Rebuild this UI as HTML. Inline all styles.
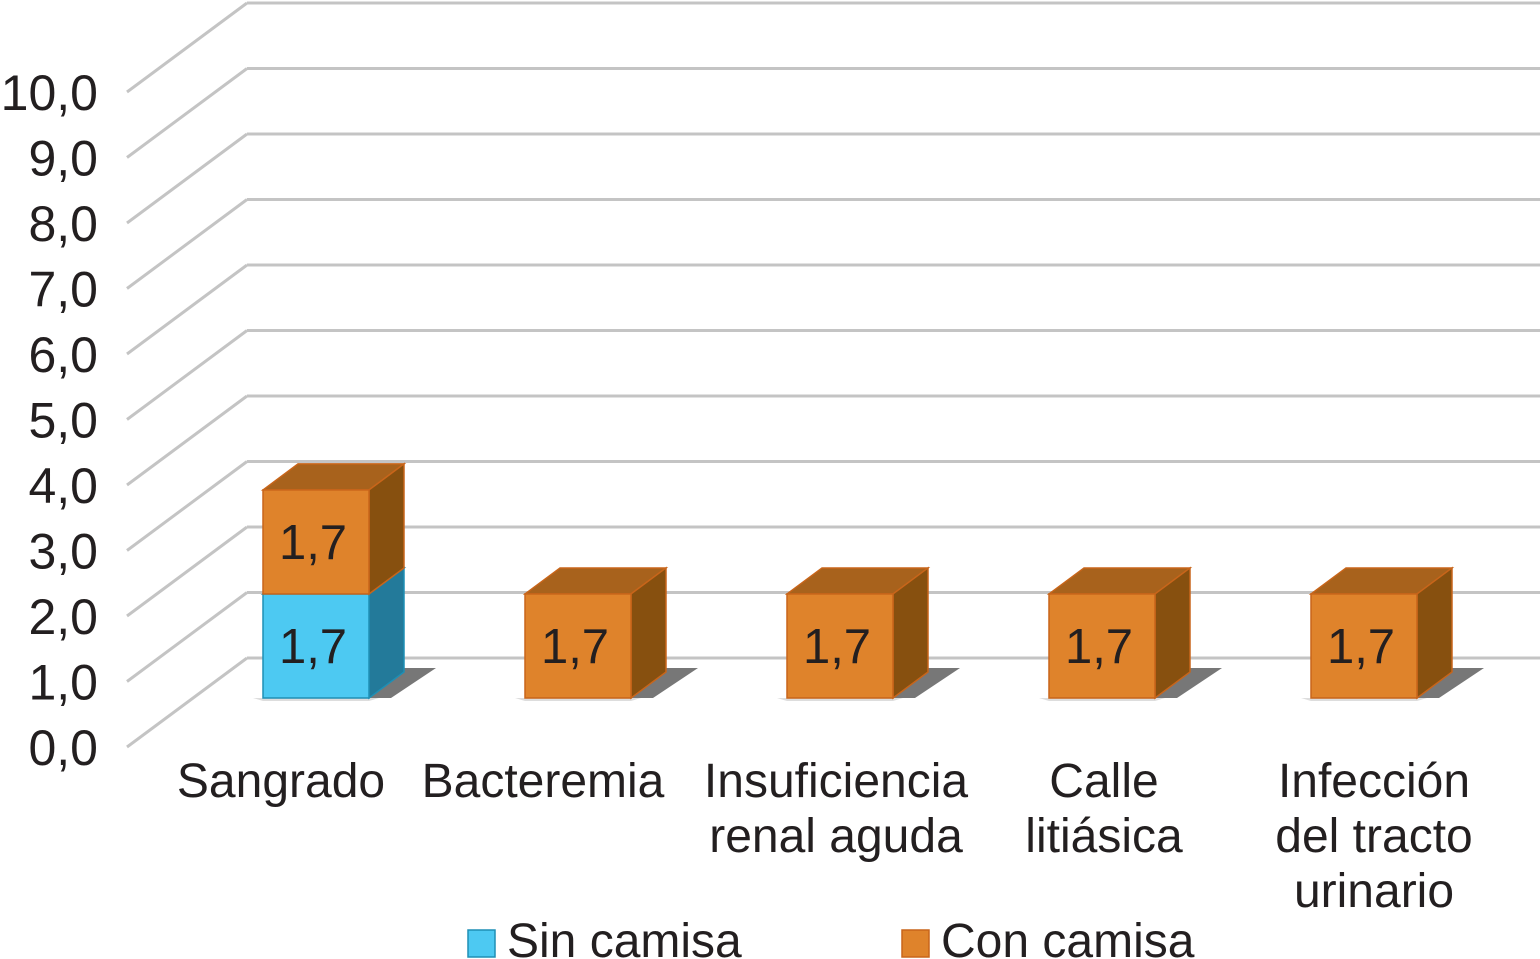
<!DOCTYPE html>
<html><head><meta charset="utf-8"><style>
html,body{margin:0;padding:0;background:#fff;}
svg{display:block;font-family:"Liberation Sans",Arial,sans-serif;}
</style></head><body>
<svg id="chart" width="1540" height="959" viewBox="0 0 1540 959" xmlns="http://www.w3.org/2000/svg"></svg>
<script>
const categories = [["Sangrado"],["Bacteremia"],["Insuficiencia","renal aguda"],["Calle","litiásica"],["Infección","del tracto","urinario"]];
const sinValues = [1.7, 0, 0, 0, 0];
const conValues = [1.7, 1.7, 1.7, 1.7, 1.7];
const tickValues = [0,1,2,3,4,5,6,7,8,9,10];
const tickLabels = ["0,0","1,0","2,0","3,0","4,0","5,0","6,0","7,0","8,0","9,0","10,0"];

const svg = document.getElementById('chart');
const NS = 'http://www.w3.org/2000/svg';
function mk(tag, attrs, parent){const e=document.createElementNS(NS,tag);for(const k in attrs)e.setAttribute(k,attrs[k]);(parent||svg).appendChild(e);return e;}

const backY = v => 658 - v*65.5;
const frontY = v => 747 - v*65.5;
const barY = v => 698 - v*61.2;
const barX = i => 263 + i*262;
const BW = 106, DX = 35, DY = 26;

tickValues.forEach((v,i)=>{
  const g = mk('g',{});
  
  
  mk('line',{x1:247,y1:backY(v),x2:1540,y2:backY(v),stroke:'#c4c4c4','stroke-width':3},g);
  mk('line',{x1:247,y1:backY(v),x2:127,y2:frontY(v),stroke:'#c4c4c4','stroke-width':3},g);
  const t = mk('text',{x:98,y:frontY(v)+18,'text-anchor':'end','font-size':50,fill:'#231f20'});
  
  
  t.textContent = tickLabels[i];
});

function box(x, y0, y1, front, top, side, stroke, name){
  const g = mk('g',{});
  
  
  mk('polygon',{points:`${x},${y1} ${x+DX},${y1-DY} ${x+BW+DX},${y1-DY} ${x+BW},${y1}`,fill:top,stroke:stroke,'stroke-width':1.5},g);
  mk('polygon',{points:`${x+BW},${y1} ${x+BW+DX},${y1-DY} ${x+BW+DX},${y0-DY} ${x+BW},${y0}`,fill:side,stroke:stroke,'stroke-width':1.5},g);
  mk('rect',{x:x,y:y1,width:BW,height:y0-y1,fill:front,stroke:stroke,'stroke-width':1.5},g);
  return g;
}

categories.forEach((c,i)=>{
  const x = barX(i);
  const sh = mk('polygon',{points:`${x+BW},${barY(0)} ${x+BW+DX},${barY(0)-30} ${x+BW+DX+32},${barY(0)-30} ${x+BW+22},${barY(0)} `,fill:'#555',opacity:0.8});
  
  
  const fl = mk('polygon',{points:`${x-10},${barY(0)} ${x+BW+10},${barY(0)} ${x+BW},${barY(0)+3} ${x},${barY(0)+3}`,fill:'#ddd'});
  
  
  let base = 0;
  if (sinValues[i] > 0){
    box(x, barY(0), barY(sinValues[i]), '#4dc9f2', '#3aa6c8', '#237a9a', '#1e8fb5', 'bar-sin-camisa-'+i);
    const t = mk('text',{x:x+BW/2-3,y:(barY(0)+barY(sinValues[i]))/2+17,'text-anchor':'middle','font-size':49,fill:'#231f20'});
    
    
    t.textContent = sinValues[i].toFixed(1).replace('.',',');
    base = sinValues[i];
  }
  if (conValues[i] > 0){
    const top = base + conValues[i];
    box(x, barY(base), barY(top), '#df832b', '#a8621c', '#87500f', '#c8651a', 'bar-con-camisa-'+i);
    const t = mk('text',{x:x+BW/2-3,y:(barY(base)+barY(top))/2+17,'text-anchor':'middle','font-size':49,fill:'#231f20'});
    
    
    t.textContent = conValues[i].toFixed(1).replace('.',',');
  }
  const cx = [281,543,836,1104,1374][i];
  c.forEach((line,j)=>{
    const t = mk('text',{x:cx,y:797+j*55,'text-anchor':'middle','font-size':48,fill:'#231f20'});
    
    
    t.textContent = line;
  });
});

const lg = mk('g',{});


const l1 = mk('rect',{x:468,y:930,width:27,height:27,fill:'#4dc9f2',stroke:'#1e8fb5','stroke-width':1.5},lg);


const t1 = mk('text',{x:507,y:957,'font-size':48,fill:'#231f20'},lg);


t1.textContent='Sin camisa';
const l2 = mk('rect',{x:902,y:930,width:27,height:27,fill:'#df832b',stroke:'#c8651a','stroke-width':1.5},lg);


const t2 = mk('text',{x:941,y:957,'font-size':48,fill:'#231f20'},lg);


t2.textContent='Con camisa';
</script>
</body></html>
